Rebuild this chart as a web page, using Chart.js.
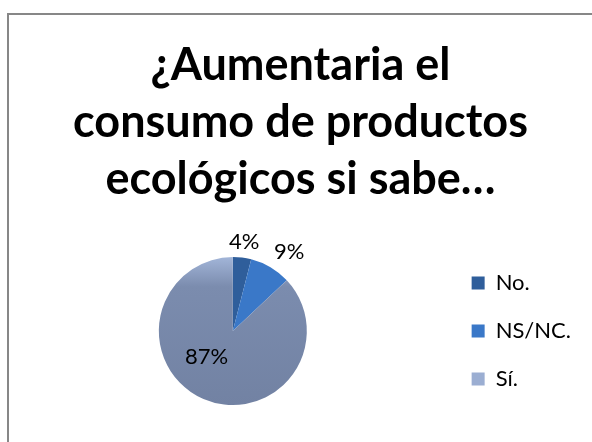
<!DOCTYPE html>
<html>
<head>
<meta charset="utf-8">
<script src="https://cdn.jsdelivr.net/npm/chart.js@4.4.1/dist/chart.umd.min.js"></script>
<style>
  html, body { margin: 0; padding: 0; background: #fff; }
  #wrap { position: relative; width: 592px; height: 442px; overflow: hidden; }
  #frame { position: absolute; left: 7px; top: 13px; width: 620px; height: 460px;
           border: 2px solid #878787; box-sizing: border-box; }
  canvas { position: absolute; left: 0; top: 0; }
</style>
</head>
<body>
<div id="wrap">
  <div id="frame"></div>
  <canvas id="c" width="592" height="442"></canvas>
</div>
<script>
const titleLines = ['¿Aumentaria el', 'consumo de productos', 'ecológicos si sabe…'];
const categories = ['No.', 'NS/NC.', 'Sí.'];
const values = [4, 9, 87];
const labelTexts = ['4%', '9%', '87%'];

const sliceColors = ['#2F5E9B', '#3A78C8', '#7686A8'];
const legendColors = ['#2F5E9B', '#3A78C8', '#9BAED2'];
// label placement: radial factor and angle adjust (degrees) per slice
const labelRadial = [1.22, 1.31, 0.5];
const labelAngleAdj = [0, 5, 22];

const ctx = document.getElementById('c').getContext('2d');

function sliceFill(context) {
  const i = context.dataIndex;
  if (i !== 2) return sliceColors[i];
  const chart = context.chart;
  const area = chart.chartArea;
  if (!area || context.type !== 'data') return sliceColors[2];
  const cy = (area.top + area.bottom) / 2;
  const g = chart.ctx.createLinearGradient(0, cy - 74, 0, cy + 74);
  g.addColorStop(0, '#A2B5D8');
  g.addColorStop(0.2, '#7B8CAE');
  g.addColorStop(1, '#7282A3');
  return g;
}

const pctLabels = {
  id: 'pctLabels',
  afterDatasetsDraw(chart) {
    const meta = chart.getDatasetMeta(0);
    const c = chart.ctx;
    c.save();
    c.font = '22px Lato';
    c.fillStyle = '#000';
    c.textAlign = 'center';
    c.textBaseline = 'middle';
    meta.data.forEach((arc, i) => {
      const p = arc.getProps(['x', 'y', 'startAngle', 'endAngle', 'outerRadius'], true);
      const mid = (p.startAngle + p.endAngle) / 2 + labelAngleAdj[i] * Math.PI / 180;
      const r = p.outerRadius * labelRadial[i];
      c.fillText(labelTexts[i], p.x + Math.cos(mid) * r, p.y + Math.sin(mid) * r);
    });
    c.restore();
  }
};

new Chart(ctx, {
  type: 'pie',
  data: {
    labels: categories,
    datasets: [{
      data: values,
      backgroundColor: sliceFill,
      borderWidth: 0,
      radius: 74
    }]
  },
  options: {
    responsive: false,
    animation: false,
    layout: { padding: { top: 13, left: 20, right: 11, bottom: 20 } },
    plugins: {
      title: {
        display: true,
        text: titleLines,
        color: '#000',
        font: { family: 'Lato', size: 45, weight: 'bold', lineHeight: 1.267 },
        padding: { top: 24, bottom: 32 }
      },
      legend: {
        position: 'right',
        fullSize: false,
        labels: {
          color: '#000',
          font: { family: 'Lato', size: 22 },
          boxWidth: 13,
          boxHeight: 13,
          padding: 26,
          generateLabels(chart) {
            const items = Chart.overrides.pie.plugins.legend.labels.generateLabels(chart);
            items.forEach((it, i) => { it.fillStyle = legendColors[i]; it.strokeStyle = legendColors[i]; it.lineWidth = 0; });
            return items;
          }
        }
      },
      tooltip: { enabled: false }
    }
  },
  plugins: [pctLabels]
});
</script>
</body>
</html>
